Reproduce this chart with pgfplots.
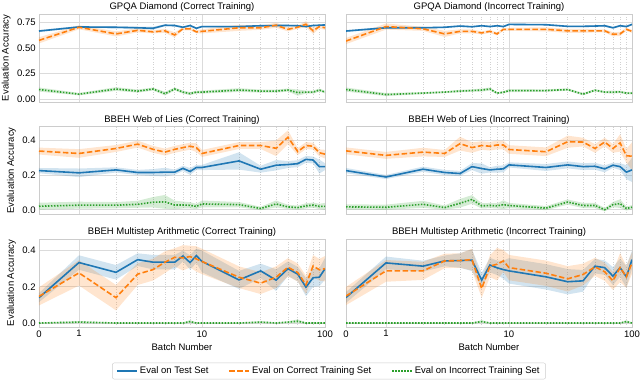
\documentclass[border=0pt]{standalone}
\usepackage{fontspec}
\setmainfont{Liberation Sans}
\usepackage{pgfplots}
\pgfplotsset{compat=1.18}
\usepackage{pgfplotstable}
\usepgfplotslibrary{groupplots,fillbetween}

\definecolor{tblue}{HTML}{1F77B4}
\definecolor{torange}{HTML}{FF7F0E}
\definecolor{tgreen}{HTML}{2CA02C}

% b = batch, t = test set, c = correct training set, i = incorrect training set
% m = mean, e = half width of the shaded band
\pgfplotstableread{
b tm te cm ce im ie
0 0.668 0.010 0.577 0.030 0.095 0.020
1 0.708 0.010 0.705 0.020 0.050 0.012
2 0.705 0.010 0.640 0.025 0.100 0.018
3 0.700 0.012 0.675 0.020 0.080 0.015
4 0.695 0.015 0.660 0.015 0.100 0.015
5 0.725 0.010 0.670 0.020 0.055 0.018
6 0.722 0.010 0.630 0.025 0.100 0.015
7 0.705 0.010 0.690 0.015 0.070 0.015
8 0.722 0.008 0.690 0.015 0.055 0.015
9 0.695 0.010 0.660 0.015 0.070 0.015
10 0.712 0.008 0.665 0.020 0.070 0.015
20 0.712 0.008 0.700 0.030 0.090 0.018
30 0.720 0.008 0.700 0.020 0.080 0.015
40 0.722 0.008 0.725 0.025 0.080 0.015
50 0.722 0.008 0.685 0.020 0.090 0.015
60 0.720 0.010 0.705 0.015 0.065 0.030
70 0.712 0.008 0.735 0.030 0.070 0.015
80 0.722 0.008 0.670 0.030 0.070 0.015
90 0.725 0.008 0.712 0.020 0.090 0.015
100 0.728 0.008 0.700 0.020 0.070 0.012
}\gpqacor

\pgfplotstableread{
b tm te cm ce im ie
0 0.668 0.010 0.570 0.030 0.095 0.020
1 0.700 0.010 0.712 0.030 0.046 0.015
2 0.700 0.008 0.690 0.020 0.060 0.010
3 0.705 0.008 0.640 0.030 0.070 0.010
4 0.717 0.008 0.665 0.020 0.080 0.012
5 0.710 0.008 0.665 0.020 0.085 0.012
6 0.720 0.008 0.650 0.015 0.090 0.015
7 0.712 0.008 0.665 0.015 0.100 0.015
8 0.720 0.008 0.640 0.015 0.060 0.010
9 0.712 0.008 0.685 0.015 0.068 0.012
10 0.733 0.008 0.685 0.015 0.085 0.015
20 0.730 0.008 0.685 0.020 0.085 0.012
30 0.714 0.008 0.670 0.020 0.095 0.012
40 0.714 0.008 0.670 0.020 0.050 0.012
50 0.717 0.010 0.670 0.015 0.088 0.012
60 0.720 0.010 0.670 0.015 0.070 0.012
70 0.700 0.010 0.636 0.020 0.070 0.015
80 0.720 0.010 0.640 0.020 0.072 0.012
90 0.712 0.010 0.685 0.015 0.060 0.012
100 0.733 0.008 0.665 0.015 0.060 0.012
}\gpqainc

\pgfplotstableread{
b tm te cm ce im ie
0 0.227 0.015 0.340 0.020 0.021 0.020
1 0.214 0.025 0.326 0.025 0.027 0.020
2 0.231 0.015 0.355 0.020 0.027 0.018
3 0.216 0.015 0.380 0.020 0.032 0.020
4 0.216 0.020 0.350 0.020 0.044 0.030
5 0.218 0.025 0.334 0.020 0.046 0.040
6 0.218 0.015 0.350 0.020 0.028 0.025
7 0.240 0.015 0.360 0.020 0.028 0.020
8 0.222 0.020 0.368 0.020 0.026 0.018
9 0.245 0.015 0.360 0.025 0.020 0.015
10 0.245 0.015 0.326 0.020 0.034 0.020
20 0.283 0.050 0.372 0.020 0.030 0.015
30 0.235 0.020 0.372 0.020 0.008 0.010
40 0.258 0.030 0.356 0.045 0.034 0.020
50 0.262 0.020 0.420 0.040 0.017 0.012
60 0.267 0.020 0.337 0.020 0.013 0.012
70 0.292 0.020 0.372 0.020 0.023 0.015
80 0.288 0.020 0.368 0.020 0.027 0.015
90 0.250 0.040 0.330 0.020 0.020 0.015
100 0.250 0.020 0.322 0.025 0.020 0.020
}\woltcor

\pgfplotstableread{
b tm te cm ce im ie
0 0.227 0.015 0.341 0.020 0.017 0.015
1 0.190 0.012 0.315 0.020 0.015 0.015
2 0.235 0.015 0.334 0.025 0.032 0.020
3 0.216 0.015 0.326 0.020 0.013 0.012
4 0.210 0.015 0.383 0.040 0.038 0.025
5 0.250 0.020 0.360 0.030 0.060 0.025
6 0.239 0.030 0.372 0.025 0.023 0.015
7 0.231 0.015 0.368 0.025 0.025 0.015
8 0.235 0.020 0.375 0.025 0.023 0.015
9 0.237 0.020 0.375 0.025 0.030 0.025
10 0.260 0.015 0.349 0.025 0.025 0.015
20 0.245 0.020 0.336 0.025 0.010 0.012
30 0.260 0.020 0.394 0.035 0.045 0.015
40 0.250 0.020 0.392 0.025 0.025 0.015
50 0.252 0.020 0.355 0.025 0.025 0.015
60 0.237 0.020 0.392 0.025 0.001 0.010
70 0.258 0.015 0.355 0.025 0.030 0.015
80 0.250 0.020 0.387 0.050 0.036 0.025
90 0.218 0.040 0.313 0.040 0.008 0.012
100 0.231 0.070 0.310 0.080 0.015 0.012
}\woltinc

\pgfplotstableread{
b tm te cm ce im ie
0 0.140 0.025 0.147 0.050 0.000 0.003
1 0.334 0.040 0.277 0.070 0.005 0.006
2 0.280 0.040 0.140 0.070 0.000 0.003
3 0.350 0.035 0.270 0.060 0.000 0.003
4 0.336 0.040 0.295 0.060 0.000 0.003
5 0.336 0.040 0.336 0.060 0.000 0.003
6 0.336 0.040 0.363 0.050 0.000 0.003
7 0.370 0.030 0.360 0.070 0.000 0.003
8 0.334 0.040 0.367 0.060 0.008 0.008
9 0.372 0.040 0.354 0.070 0.000 0.003
10 0.340 0.060 0.340 0.070 0.000 0.003
20 0.238 0.050 0.253 0.060 0.000 0.003
30 0.288 0.040 0.220 0.060 0.005 0.006
40 0.237 0.060 0.253 0.060 0.000 0.003
50 0.300 0.040 0.308 0.050 0.005 0.005
60 0.270 0.040 0.279 0.050 0.010 0.010
70 0.198 0.050 0.211 0.050 0.000 0.003
80 0.250 0.050 0.315 0.060 0.000 0.003
90 0.253 0.050 0.294 0.060 0.000 0.003
100 0.300 0.060 0.300 0.070 0.000 0.003
}\msacor

\pgfplotstableread{
b tm te cm ce im ie
0 0.141 0.030 0.149 0.050 0.000 0.003
1 0.332 0.035 0.288 0.060 0.000 0.003
2 0.314 0.030 0.288 0.050 0.000 0.003
3 0.343 0.030 0.343 0.040 0.000 0.003
4 0.345 0.040 0.345 0.040 0.000 0.003
5 0.347 0.060 0.350 0.060 0.000 0.003
6 0.237 0.040 0.190 0.050 0.008 0.008
7 0.320 0.040 0.314 0.060 0.000 0.003
8 0.305 0.040 0.325 0.090 0.000 0.003
9 0.295 0.050 0.343 0.060 0.000 0.003
10 0.288 0.070 0.306 0.070 0.000 0.003
20 0.255 0.070 0.275 0.070 0.000 0.003
30 0.228 0.070 0.244 0.070 0.000 0.003
40 0.233 0.060 0.268 0.060 0.000 0.003
50 0.314 0.040 0.310 0.050 0.000 0.003
60 0.306 0.040 0.283 0.050 0.000 0.003
70 0.259 0.050 0.233 0.050 0.000 0.003
80 0.306 0.050 0.306 0.080 0.000 0.003
90 0.255 0.060 0.255 0.060 0.008 0.008
100 0.350 0.050 0.332 0.060 0.000 0.003
}\msainc

% one band (mean +- e) for a column pair
\newcommand{\band}[4]{%
  \addplot[name path=up, draw=none, forget plot] table[x=b, y expr=\thisrow{#2}+\thisrow{#3}] {#1};
  \addplot[name path=lo, draw=none, forget plot] table[x=b, y expr=\thisrow{#2}-\thisrow{#3}] {#1};
  \addplot[fill=#4, fill opacity=0.2, draw=none, forget plot] fill between[of=up and lo];
}
\newcommand{\panel}[1]{%
  \band{#1}{tm}{te}{tblue}
  \band{#1}{cm}{ce}{torange}
  \band{#1}{im}{ie}{tgreen}
  \addplot[tblue, line width=1.6pt] table[x=b, y=tm] {#1};
  \addplot[torange, line width=1.6pt, dash pattern=on 5.5pt off 2.5pt] table[x=b, y=cm] {#1};
  \addplot[tgreen, line width=1.6pt, dash pattern=on 1.5pt off 1.5pt] table[x=b, y=im] {#1};
}

\begin{document}
\fontsize{9.5}{11}\selectfont
\begin{tikzpicture}
\begin{groupplot}[
    group style={group size=2 by 3, group name=my plots,
      horizontal sep=21pt, vertical sep=24.5pt,
      xticklabels at=edge bottom, yticklabels at=edge left},
    width=286pt, height=88pt, scale only axis,
    % symlog-like x axis: linear from 0 to 1, log above
    x coord trafo/.code={\pgfmathparse{#1<=1 ? 0.325*#1 : 0.325+log10(max(#1,1))}},
    xmin=0, xmax=100,
    xtick={0,1,10,100}, xticklabels={0,1,10,100},
    minor xtick={2,3,4,5,6,7,8,9,20,30,40,50,60,70,80,90},
    grid=both,
    major grid style={black!14, line width=0.8pt},
    minor grid style={black!18, line width=0.5pt, dotted},
    axis line style={black!20, line width=0.8pt},
    major tick length=0pt, minor tick length=0pt,
    title style={yshift=-7pt},
    legend image code/.code={\draw[#1] (0pt,0pt) -- (20pt,0pt);},
  ]
  \nextgroupplot[title={GPQA Diamond (Correct Training)}, ylabel={Evaluation Accuracy},
    ymin=-0.027, ymax=0.835, ytick={0,0.25,0.5,0.75}, yticklabels={0.00,0.25,0.50,0.75}]
  \panel{\gpqacor}
  \nextgroupplot[title={GPQA Diamond (Incorrect Training)},
    ymin=-0.027, ymax=0.835, ytick={0,0.25,0.5,0.75}]
  \panel{\gpqainc}
  \nextgroupplot[title={BBEH Web of Lies (Correct Training)}, ylabel={Evaluation Accuracy},
    ymin=-0.027, ymax=0.482, ytick={0,0.2,0.4}, yticklabels={0.0,0.2,0.4}]
  \panel{\woltcor}
  \nextgroupplot[title={BBEH Web of Lies (Incorrect Training)},
    ymin=-0.027, ymax=0.482, ytick={0,0.2,0.4}]
  \panel{\woltinc}
  \nextgroupplot[title={BBEH Multistep Arithmetic (Correct Training)}, ylabel={Evaluation Accuracy},
    xlabel={Batch Number},
    ymin=-0.022, ymax=0.464, ytick={0,0.2,0.4}, yticklabels={0.0,0.2,0.4},
    legend columns=3, legend cell align=left,
    legend style={at={(1.014,-0.5)}, anchor=center, draw=black!20, rounded corners=2pt,
      inner xsep=4pt, inner ysep=2pt,
      /tikz/every even column/.append style={column sep=18pt}}]
  \panel{\msacor}
  \addlegendentry{Eval on Test Set}
  \addlegendentry{Eval on Correct Training Set}
  \addlegendentry{Eval on Incorrect Training Set}
  \nextgroupplot[title={BBEH Multistep Arithmetic (Incorrect Training)}, xlabel={Batch Number},
    ymin=-0.022, ymax=0.464, ytick={0,0.2,0.4}]
  \panel{\msainc}
\end{groupplot}
\pgfresetboundingbox
\path[use as bounding box] ([shift={(-39pt,14pt)}]my plots c1r1.north west)
  rectangle ([shift={(8pt,-55pt)}]my plots c2r3.south east);
\end{tikzpicture}
\end{document}
